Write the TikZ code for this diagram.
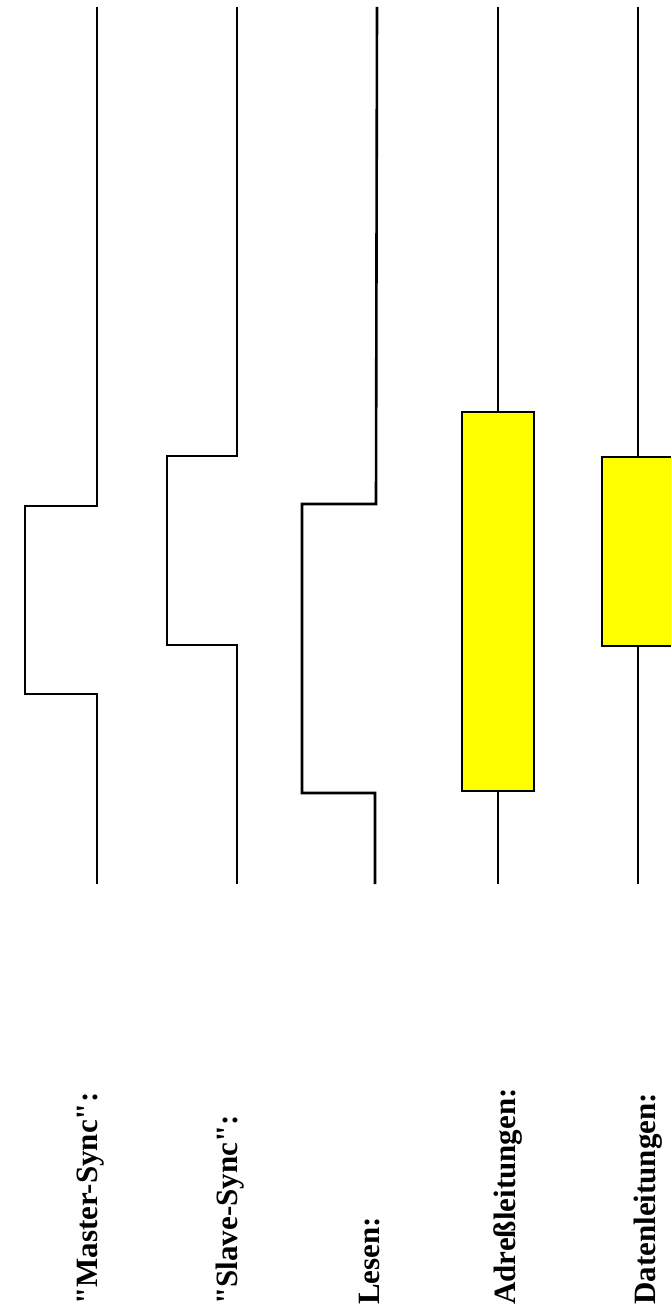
\documentclass[tikz,border=0pt]{standalone}
\usepackage{fontspec}
\setmainfont{Liberation Serif}[Ligatures=TeXOff]
\definecolor{busyellow}{RGB}{255,255,0}
\begin{document}
\begin{tikzpicture}[x=1pt,y=-1pt,
  sig/.style={line width=2.6pt, line join=miter, line cap=butt},
  bus/.style={draw=black, fill=busyellow, line width=2.8pt, minimum width=72pt, inner sep=0pt, rectangle},
  lbl/.style={font=\bfseries\fontsize{31}{36}\selectfont, rotate=90, anchor=base west, inner sep=0pt}]
\useasboundingbox (0,0) rectangle (671,1311);
% Master-Sync
\draw[sig] (97,7) coordinate (m0) -- (97,506) coordinate (m1) -- (25,506) coordinate (m2)
  -- (25,694) coordinate (m3) -- (97,694) coordinate (m4) -- (97,884) coordinate (m5);
% Slave-Sync
\draw[sig] (237,7) coordinate (s0) -- (237,456) coordinate (s1) -- (167,456) coordinate (s2)
  -- (167,645) coordinate (s3) -- (237,645) coordinate (s4) -- (237,884) coordinate (s5);
% Lesen
\draw[sig] (377,7) coordinate (l0) -- (376,504) coordinate (l1) -- (302,504) coordinate (l2)
  -- (302,793) coordinate (l3) -- (375,793) coordinate (l4) -- (375,884) coordinate (l5);
% Adressleitungen
\node[bus, minimum height=379pt] (abox) at (498,601.5) {};
\coordinate (a0) at (498,7);
\coordinate (a1) at (498,884);
\draw[sig] (a0) -- (abox.north);
\draw[sig] (abox.south) -- (a1);
% Datenleitungen
\node[bus, minimum height=189pt] (dbox) at (638,551.5) {};
\coordinate (d0) at (638,7);
\coordinate (d1) at (638,884);
\draw[sig] (d0) -- (dbox.north);
\draw[sig] (dbox.south) -- (d1);
% labels
\node[lbl] (tm) at (97,1305) {"Master-Sync":};
\node[lbl] (ts) at (237,1305) {"Slave-Sync":};
\node[lbl] (tl) at (379,1305) {Lesen:};
\node[lbl] (ta) at (515,1305) {Adreßleitungen:};
\node[lbl] (td) at (655,1305) {Datenleitungen:};
\end{tikzpicture}
\end{document}
